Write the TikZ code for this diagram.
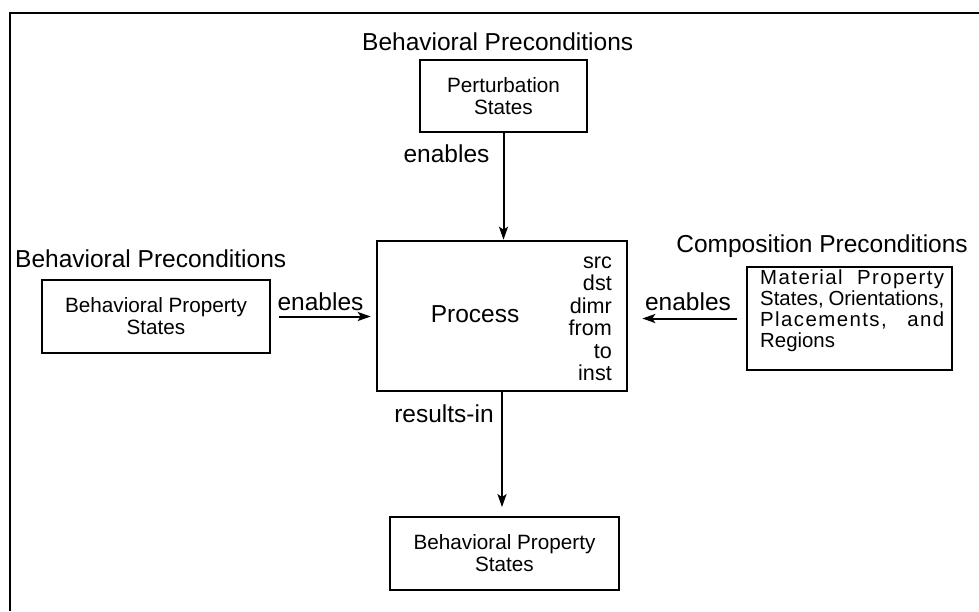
\documentclass[tikz,border=0pt]{standalone}
\usepackage{fontspec}
\setmainfont{Liberation Sans}
\newfontfamily\spacedsans[LetterSpace=7]{Liberation Sans}
\usetikzlibrary{arrows.meta,calc}

\begin{document}
\begin{tikzpicture}[x=1pt,y=-1pt,
  box/.style={draw=black, line width=1.8pt, inner sep=0pt, align=center,
    font=\fontsize{20.7}{22}\selectfont},
  lbl/.style={inner sep=0pt, font=\fontsize{24.5}{28}\selectfont},
  arr/.style={line width=2pt, -{Stealth[length=13pt,width=9pt,inset=3pt]}}]

  % page area and the open frame (top and left edges)
  \useasboundingbox (0,0) rectangle (979,611);
  \coordinate (fbl) at (10,611);
  \coordinate (ftl) at (10,13);
  \coordinate (ftr) at (979,13);
  \draw[line width=2.6pt] (fbl) -- (ftl) -- (ftr);

  % boxes
  \node[box, minimum width=167pt, minimum height=72pt] (pert) at (503.5,96)
    {Perturbation\\States};
  \node[box, minimum width=228pt, minimum height=73pt] (lbox) at (156,316.5)
    {Behavioral Property\\States};
  \node[box, line width=2.6pt, minimum width=250pt, minimum height=150pt] (proc) at (502,316) {};
  \node[box, minimum width=205pt, minimum height=103pt] (mat) at (849.5,318.5) {};
  \node[box, minimum width=229pt, minimum height=73pt] (bot) at (504.5,553.5)
    {Behavioral Property\\States};

  % texts inside the process and material boxes
  \node[lbl, anchor=base] (proctxt) at (475,322) {Process};
  \node[inner sep=0pt, anchor=east, align=right,
    font=\fontsize{21.6}{22.5}\selectfont] (roles) at (612,319)
    {src\\dst\\dimr\\from\\to\\inst};
  \node[inner sep=0pt, anchor=west, align=left,
    font=\fontsize{20.4}{21}\selectfont] (mattxt) at (760,311)
    {\makebox[184pt][s]{\spacedsans Material Property}\\
     \makebox[184pt][s]{States, Orientations,}\\
     \makebox[184pt][s]{\spacedsans Placements, and}\\
     Regions};

  % group titles
  \node[lbl, anchor=base west] (ttop) at (362,50) {Behavioral Preconditions};
  \node[lbl, anchor=base west] (tleft) at (15,267) {Behavioral Preconditions};
  \node[lbl, anchor=base east] (tright) at (968,252) {Composition Preconditions};

  % connectors
  \draw[arr] (pert.south) -- (pert.south |- proc.north);
  \draw[arr, shorten <=8pt, shorten >=5pt] (lbox.east) -- (lbox.east -| proc.west);
  \draw[arr, shorten <=9pt, shorten >=14pt] (mat.west) -- (mat.west -| proc.east);
  \draw[arr, shorten >=9pt] (proc.south) -- (proc.south |- bot.north);

  % connector labels
  \node[lbl, anchor=base] (etop) at (446.5,162) {enables};
  \node[lbl, anchor=base] (eleft) at (320.5,310) {enables};
  \node[lbl, anchor=base] (eright) at (688,310) {enables};
  \node[lbl, anchor=base] (res) at (444,422) {results-in};
\end{tikzpicture}
\end{document}
